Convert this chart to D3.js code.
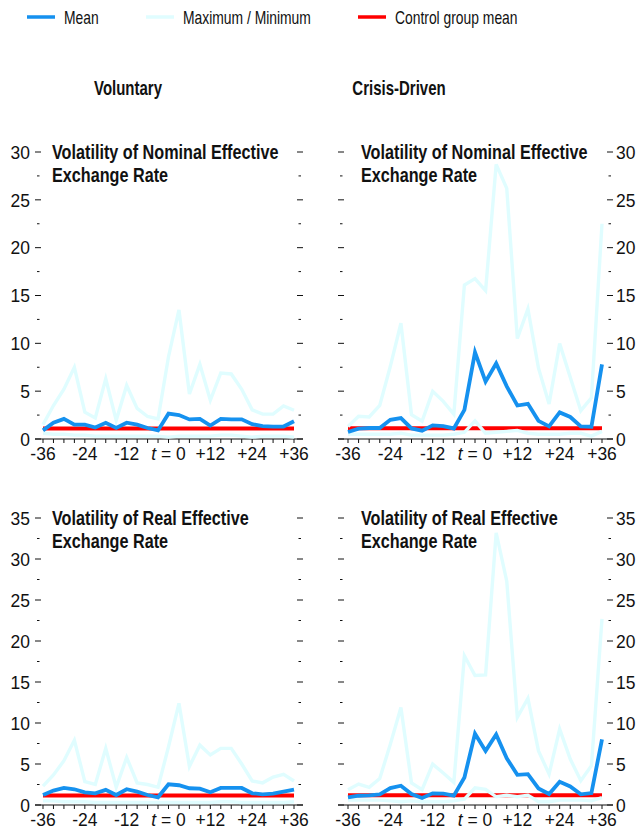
<!DOCTYPE html>
<html><head><meta charset="utf-8">
<script src="https://cdn.jsdelivr.net/npm/d3@7"></script>
<style>
body{margin:0;background:#fff}
text{font-family:"Liberation Sans",Arimo,Arial,sans-serif;fill:#111}
</style>
</head><body>
<svg id="c" width="637" height="834"></svg>
<script>
// ---------- data ----------
const months = [-36,-33,-30,-27,-24,-21,-18,-15,-12,-9,-6,-3,0,3,6,9,12,15,18,21,24,27,30,33,36];
const xTickValues = [-36,-24,-12,0,12,24,36];
const xTickLabels = ["-36","-24","-12","t = 0","+12","+24","+36"];
const legendLabels = ["Mean","Maximum / Minimum","Control group mean"];
const columnTitles = ["Voluntary","Crisis-Driven"];
const rowTitles = [["Volatility of Nominal Effective","Exchange Rate"],["Volatility of Real Effective","Exchange Rate"]];

// Nominal effective exchange rate, voluntary
const nomVolMean = [0.9,1.7,2.1,1.5,1.5,1.2,1.7,1.15,1.7,1.5,1.15,0.9,2.65,2.5,2.05,2.1,1.4,2.1,2.05,2.05,1.55,1.35,1.3,1.3,1.85];
const nomVolMax  = [1.5,3.5,5.2,7.5,2.8,2.2,6.3,1.95,5.6,3.2,2.35,2.1,8.6,13.5,4.7,7.8,4.05,6.9,6.8,5.2,3.05,2.6,2.6,3.45,3.0];
const nomVolMin  = [0.6,0.5,0.5,0.4,0.4,0.3,0.3,0.3,0.3,0.3,0.3,0.3,0.2,0.3,0.3,0.3,0.3,0.4,0.4,0.3,0.2,0.3,0.3,0.3,0.2];
const nomVolCtrl = 1.1;
// Nominal effective exchange rate, crisis-driven
const nomCriMean = [0.73,1.08,1.15,1.15,2.0,2.19,1.1,0.87,1.42,1.35,1.1,3.05,9.06,6.0,7.9,5.5,3.5,3.68,1.9,1.32,2.78,2.3,1.32,1.28,7.8];
const nomCriMax  = [1.3,2.37,2.3,3.5,7.6,12.1,2.54,1.85,4.98,3.94,2.6,16.1,16.76,15.5,28.7,26.2,10.5,13.6,7.4,3.66,9.97,6.45,2.96,4.29,22.5];
const nomCriMin  = [0.5,0.5,0.5,0.5,0.5,0.6,0.4,0.4,0.4,0.4,0.5,0.7,1.9,0.6,0.7,0.8,0.9,0.6,0.5,0.5,0.5,0.6,0.6,0.3,0.8];
const nomCriCtrl = 1.12;
// Real effective exchange rate, voluntary
const realVolMean = [1.22,1.76,2.08,1.92,1.55,1.43,1.84,1.22,1.92,1.63,1.22,0.94,2.53,2.41,2.04,2.0,1.55,2.08,2.08,2.08,1.43,1.3,1.39,1.63,1.88];
const realVolMax  = [2.3,3.66,5.4,7.9,2.85,2.5,6.9,2.16,5.8,2.7,2.5,2.16,7.1,12.4,4.7,7.3,6.1,6.9,6.9,5.0,2.93,2.7,3.4,3.74,2.93];
const realVolMin  = [0.5,0.5,0.4,0.4,0.4,0.3,0.3,0.3,0.3,0.3,0.3,0.3,0.3,0.3,0.3,0.3,0.3,0.4,0.4,0.3,0.3,0.3,0.3,0.3,0.4];
const realVolCtrl = 1.15;
// Real effective exchange rate, crisis-driven
const realCriMean = [0.93,1.13,1.17,1.3,2.06,2.35,1.34,0.85,1.42,1.38,1.13,3.36,8.7,6.6,8.6,5.7,3.68,3.76,2.02,1.34,2.83,2.27,1.3,1.46,8.0];
const realCriMax  = [1.87,2.55,2.15,3.24,7.4,11.9,2.68,1.87,4.99,3.9,2.76,18.2,15.8,15.86,33.2,27.3,10.7,13.0,6.6,3.77,9.25,5.6,2.96,4.79,22.7];
const realCriMin  = [0.6,0.6,0.6,0.6,0.5,0.4,0.5,0.4,0.4,0.4,0.5,0.7,2.1,1.9,1.0,1.2,1.0,1.2,0.4,0.4,0.6,0.6,0.6,0.5,0.9];
const realCriCtrl = 1.2;

const nomYTicks = [0,5,10,15,20,25,30];
const realYTicks = [0,5,10,15,20,25,30,35];

// ---------- style / layout ----------
const C_MEAN = "#1591ef", C_MAXMIN = "#e0fdff", C_CTRL = "#ff0000";
const svg = d3.select("#c");

// condensed text helper (horizontal scaling imitates a condensed face)
function txt(g, x, y, s, size, sx, anchor, bold) {
  const t = g.append("text")
    .attr("transform", `translate(${x},${y}) scale(${sx},1)`)
    .attr("font-size", size)
    .attr("text-anchor", anchor || "start");
  if (bold) t.attr("font-weight", "bold");
  if (s !== null) t.text(s);
  return t;
}

// legend
const legendItems = [
  {label: legendLabels[0], color: C_MEAN, x: 27},
  {label: legendLabels[1], color: C_MAXMIN, x: 146},
  {label: legendLabels[2], color: C_CTRL, x: 358}
];
const lg = svg.append("g");
legendItems.forEach(it => {
  lg.append("line").attr("x1", it.x).attr("x2", it.x + 28).attr("y1", 17).attr("y2", 17)
    .attr("stroke", it.color).attr("stroke-width", 3.5);
  txt(lg, it.x + 37, 24, it.label, 19, 0.73);
});

// column titles
[128, 399].forEach((cx, i) => {
  txt(svg, cx, 95, columnTitles[i], 20, 0.75, "middle", true);
});

const panels = [
  {mean: nomVolMean, max: nomVolMax, min: nomVolMin, ctrl: nomVolCtrl, yMax: 30, yTicks: nomYTicks, title: rowTitles[0], side: "left",
   x0: 35, x1: 303, d0: 43, d1: 294, y0: 439, y1: 152},
  {mean: nomCriMean, max: nomCriMax, min: nomCriMin, ctrl: nomCriCtrl, yMax: 30, yTicks: nomYTicks, title: rowTitles[0], side: "right",
   x0: 338, x1: 613, d0: 348, d1: 602, y0: 439, y1: 152},
  {mean: realVolMean, max: realVolMax, min: realVolMin, ctrl: realVolCtrl, yMax: 35, yTicks: realYTicks, title: rowTitles[1], side: "left",
   x0: 35, x1: 303, d0: 43, d1: 294, y0: 805, y1: 518},
  {mean: realCriMean, max: realCriMax, min: realCriMin, ctrl: realCriCtrl, yMax: 35, yTicks: realYTicks, title: rowTitles[1], side: "right",
   x0: 338, x1: 613, d0: 348, d1: 602, y0: 805, y1: 518}
];

panels.forEach(p => {
  const g = svg.append("g");
  const x = d3.scaleLinear().domain([-36, 36]).range([p.d0, p.d1]);
  const y = d3.scaleLinear().domain([0, p.yMax]).range([p.y0, p.y1]);

  // y ticks on both sides (major every 5, minor halfway)
  const minor = p.yTicks.slice(0, -1).map(v => v + 2.5);
  p.yTicks.forEach(v => {
    g.append("line").attr("x1", p.x0).attr("x2", p.x0 + 6).attr("y1", y(v)).attr("y2", y(v)).attr("stroke", "#111").attr("stroke-width", 1);
    g.append("line").attr("x1", p.x1 - 6).attr("x2", p.x1).attr("y1", y(v)).attr("y2", y(v)).attr("stroke", "#111").attr("stroke-width", 1);
  });
  minor.forEach(v => {
    g.append("line").attr("x1", p.x0 + 2).attr("x2", p.x0 + 4.5).attr("y1", y(v)).attr("y2", y(v)).attr("stroke", "#111").attr("stroke-width", 1);
    g.append("line").attr("x1", p.x1 - 4.5).attr("x2", p.x1 - 2).attr("y1", y(v)).attr("y2", y(v)).attr("stroke", "#111").attr("stroke-width", 1);
  });
  p.yTicks.forEach(v => {
    if (p.side === "left") txt(g, p.x0 - 5, y(v) + 6.8, String(v), 19, 0.92, "end");
    else txt(g, p.x1 + 3, y(v) + 6.8, String(v), 19, 0.92, "start");
  });

  // x axis
  g.append("line").attr("x1", p.x0).attr("x2", p.x1).attr("y1", p.y0).attr("y2", p.y0).attr("stroke", "#111").attr("stroke-width", 1.2);
  months.forEach(m => {
    g.append("line").attr("x1", x(m)).attr("x2", x(m)).attr("y1", p.y0).attr("y2", p.y0 + 4).attr("stroke", "#111").attr("stroke-width", 1);
  });
  xTickValues.forEach((v, i) => {
    const t = txt(g, x(v), p.y0 + 20.5, null, 19, 0.92, "middle");
    if (v === 0) {
      t.append("tspan").attr("font-style", "italic").text("t");
      t.append("tspan").text(" = 0");
    } else t.text(xTickLabels[i]);
  });

  // title
  p.title.forEach((s, i) => {
    txt(g, p.side === "left" ? 52 : 361, p.y1 + 7 + i * 23, s, 20.5, 0.79, "start", true);
  });

  const line = d3.line().x((d, i) => x(months[i])).y(d => y(d));
  // control mean
  g.append("path").datum(months.map(() => p.ctrl)).attr("d", line).attr("fill", "none")
    .attr("stroke", C_CTRL).attr("stroke-width", 4);
  // max / min
  [p.max, p.min].forEach(s => {
    g.append("path").datum(s).attr("d", line).attr("fill", "none")
      .attr("stroke", C_MAXMIN).attr("stroke-width", 3.4);
  });
  // mean
  g.append("path").datum(p.mean).attr("d", line).attr("fill", "none")
    .attr("stroke", C_MEAN).attr("stroke-width", 3.8);
});
</script>
</body></html>
